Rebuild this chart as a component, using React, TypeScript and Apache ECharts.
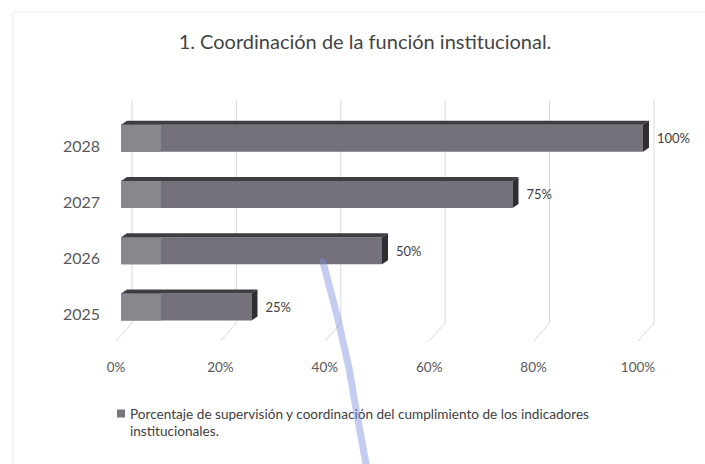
import React, { useEffect, useRef } from "react";
import * as echarts from "echarts";

const titleText = "1. Coordinación de la función institucional.";
const categories = ["2025", "2026", "2027", "2028"];
const values = [25, 50, 75, 100];
const xTicks = [0, 20, 40, 60, 80, 100];
const seriesName =
  "Porcentaje de supervisión y coordinación del cumplimiento de los indicadores\ninstitucionales.";

const FONT = "Lato, 'Open Sans', sans-serif";

export default function App() {
  const ref = useRef<HTMLDivElement>(null);
  useEffect(() => {
    if (!ref.current) return;
    const chart = echarts.init(ref.current, undefined, { renderer: "svg" });
    const DX = 6;
    const DY = -4;
    const option: any = {
      animation: false,
      backgroundColor: "#ffffff",
      title: {
        text: titleText,
        left: 365,
        textAlign: "center",
        top: 31,
        padding: 0,
        textStyle: { fontFamily: FONT, fontSize: 20, fontWeight: "normal", color: "#454545" },
      },
      grid: { left: 121, top: 110, width: 522, height: 225, containLabel: false },
      xAxis: {
        type: "value",
        min: 0,
        max: 100,
        interval: 20,
        axisLine: { show: false },
        axisTick: { show: false },
        splitLine: { show: false },
        axisLabel: {
          formatter: "{value}%",
          margin: 25,
          padding: [0, 10, 0, 0],
          fontFamily: FONT,
          fontSize: 13.5,
          color: "#595959",
        },
      },
      yAxis: {
        type: "category",
        data: categories,
        axisLine: { show: false },
        axisTick: { show: false },
        splitLine: { show: false },
        axisLabel: {
          margin: 21,
          verticalAlign: "top",
          lineHeight: 14,
          fontFamily: FONT,
          fontSize: 16,
          color: "#595959",
        },
      },
      legend: {
        data: [seriesName],
        left: 117,
        top: 388,
        padding: 0,
        icon: "rect",
        itemWidth: 8,
        itemHeight: 8,
        itemGap: 2,
        formatter: (name: string) => "\n" + name,
        textStyle: {
          fontFamily: FONT,
          fontSize: 13.6,
          color: "#404040",
          lineHeight: 17,
        },
      },
      graphic: [
        {
          type: "rect",
          shape: { x: 13, y: 12, width: 720, height: 480 },
          style: { fill: "none", stroke: "#ececec", lineWidth: 1 },
          z: -1,
          silent: true,
        },
        {
          type: "polyline",
          shape: {
            points: [
              [323, 262],
              [337, 315],
              [349, 368],
              [357, 415],
              [366, 464],
            ],
          },
          style: { stroke: "rgba(125,145,225,0.45)", lineWidth: 7, lineCap: "round", fill: "none" },
          z: 100,
          silent: true,
        },
      ],
      series: [
        {
          type: "custom",
          name: "grid",
          silent: true,
          z: 1,
          data: xTicks.map((t) => [t]),
          encode: { x: 0 },
          renderItem: (params: any, api: any) => {
            const cs = params.coordSys;
            const x = api.coord([api.value(0), 0])[0];
            const top = cs.y;
            const bottom = cs.y + cs.height;
            return {
              type: "polyline",
              shape: {
                points: [
                  [x + 11, top - 10],
                  [x + 11, bottom - 12],
                  [x - 5, bottom + 6],
                ],
              },
              style: { stroke: "#d9d9d9", lineWidth: 1, fill: "none" },
            };
          },
        },
        {
          type: "custom",
          name: seriesName,
          z: 2,
          itemStyle: { color: "#77747b" },
          data: values.map((v, i) => [v, i]),
          encode: { x: 0, y: 1 },
          renderItem: (params: any, api: any) => {
            const v = api.value(0);
            const c = api.value(1);
            const s = api.coord([0, c]);
            const e = api.coord([v, c]);
            const bh = api.size([0, 1])[1] * 0.48;
            const x0 = s[0];
            const x1 = e[0];
            const y0 = s[1] - bh / 2;
            const y1 = y0 + bh;
            return {
              type: "group",
              children: [
                {
                  type: "rect",
                  shape: { x: x0, y: y0, width: x1 - x0, height: bh },
                  style: { fill: "#75717a" },
                },
                {
                  type: "rect",
                  shape: { x: x0, y: y0, width: Math.min(40, x1 - x0), height: bh },
                  style: { fill: "#88878b" },
                },
                {
                  type: "polygon",
                  shape: {
                    points: [
                      [x0, y0],
                      [x0 + DX, y0 + DY],
                      [x1 + DX, y0 + DY],
                      [x1, y0],
                    ],
                  },
                  style: { fill: "#3f3d43" },
                },
                {
                  type: "polygon",
                  shape: {
                    points: [
                      [x1, y0],
                      [x1 + DX, y0 + DY],
                      [x1 + DX, y1 + DY],
                      [x1, y1],
                    ],
                  },
                  style: { fill: "#2f2e33" },
                },
                {
                  type: "text",
                  style: {
                    text: v + "%",
                    x: x1 + 14,
                    y: s[1],
                    verticalAlign: "middle",
                    align: "left",
                    fontFamily: FONT,
                    fontSize: 13,
                    fill: "#404040",
                  },
                },
              ],
            };
          },
        },
      ],
    };
    chart.setOption(option);
    return () => chart.dispose();
  }, []);
  return (
    <div
      ref={ref}
      style={{ position: "absolute", left: 0, top: 0, width: 705, height: 464 }}
    />
  );
}
